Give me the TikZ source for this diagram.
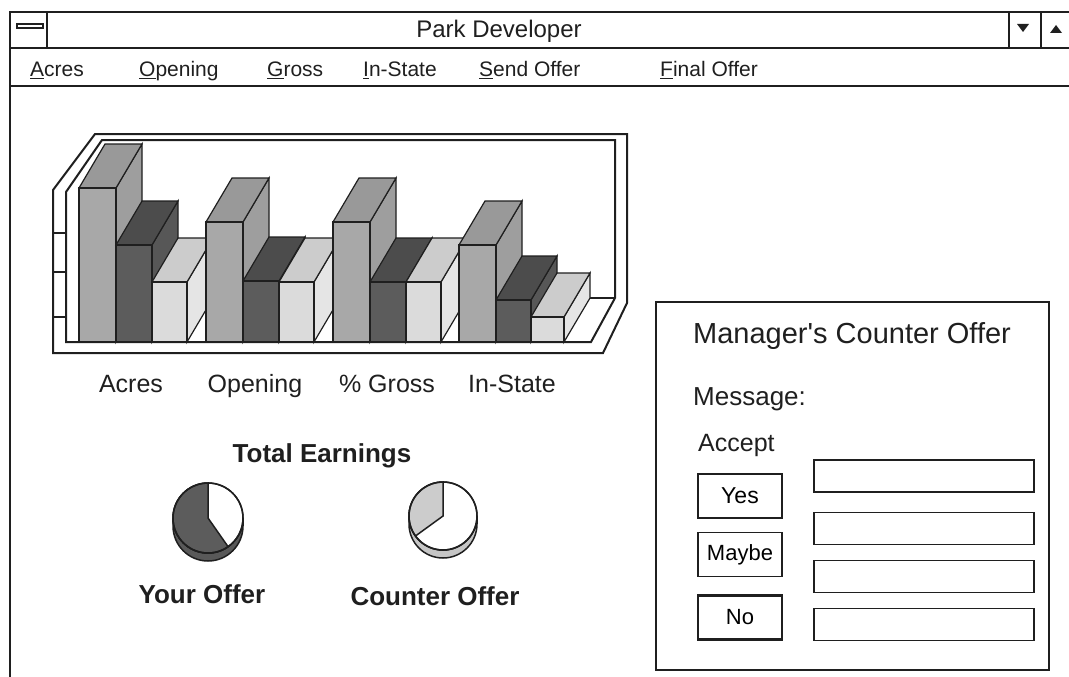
\documentclass[tikz,border=0pt]{standalone}
\usepackage{fontspec}
\setmainfont{Liberation Sans}
\newfontfamily\plainsans{Liberation Sans}
\definecolor{tallF}{gray}{0.66}
\definecolor{tallT}{gray}{0.60}
\definecolor{tallS}{gray}{0.62}
\definecolor{darkF}{gray}{0.36}
\definecolor{darkT}{gray}{0.30}
\definecolor{darkS}{gray}{0.34}
\definecolor{lightF}{gray}{0.86}
\definecolor{lightT}{gray}{0.80}
\definecolor{lightS}{gray}{0.90}
\definecolor{ink}{gray}{0.12}
\newcommand{\pdbar}[4]{%
  \filldraw[barline,fill=#4S] (#1+#2,#3) -- ++(26,-44) -- (#1+#2+26,298) -- (#1+#2,342) -- cycle;
  \filldraw[barline,fill=#4T] (#1,#3) -- ++(26,-44) -- ++(#2,0) -- (#1+#2,#3) -- cycle;
  \filldraw[barline,fill=#4F] (#1,#3) rectangle (#1+#2,342);
}
\newcommand{\mnem}[1]{\underline{#1}}
\tikzset{
  win/.style={line width=2.2pt, draw=ink},
  frameline/.style={line width=2pt, draw=ink},
  barline/.style={line width=1.2pt, draw=ink},
  btn/.style={draw=ink, line width=1.5pt, minimum width=84pt, minimum height=44pt, inner sep=0pt, font=\fontsize{23}{26}\selectfont},
  fld/.style={draw=ink, line width=1.5pt, minimum width=220pt, minimum height=32pt, inner sep=0pt},
  menu/.style={anchor=base west, inner sep=0pt, text=ink, font=\fontsize{21}{24}\selectfont},
  lab/.style={anchor=base, inner sep=0pt, text=ink, font=\fontsize{25}{28}\selectfont},
  boldlab/.style={anchor=base, inner sep=0pt, text=ink, font=\bfseries\fontsize{26}{30}\selectfont},
  dlg/.style={anchor=base west, inner sep=0pt, text=ink},
}
\begin{document}
\begin{tikzpicture}[x=1pt,y=-1pt,line join=miter]
\useasboundingbox (0,0) rectangle (1069,677);
% window frame
\draw[win] (10,677) -- (10,12) -- (1069,12);
\draw[win] (10,48) -- (1069,48);
\draw[win] (10,86) -- (1069,86);
\draw[win] (47,12) -- (47,48);
\draw[line width=1.5pt,draw=ink] (1009,12) -- (1009,48);
\draw[line width=1.5pt,draw=ink] (1041,12) -- (1041,48);
\filldraw[fill=white,draw=ink,line width=1.3pt] (17,24) rectangle (43,28);
\fill[ink] (1017,24) -- (1029,24) -- (1023,32) -- cycle;
\fill[ink] (1050,33) -- (1062,33) -- (1056,25) -- cycle;
\node[text=ink,font=\fontsize{24}{28}\selectfont] (title) at (499,31) {Park Developer};
% menu
\node[menu] (mAcres) at (30,77) {\mnem{A}cres};
\node[menu] (mOpening) at (139,77) {\mnem{O}pening};
\node[menu] (mGross) at (267,77) {\mnem{G}ross};
\node[menu] (mInState) at (363,77) {\mnem{I}n-State};
\node[menu] (mSend) at (479,77) {\mnem{S}end Offer};
\node[menu] (mFinal) at (660,77) {\mnem{F}inal Offer};
% chart frame
\draw[frameline] (53,353) -- (603,353) -- (627,303) -- (627,134) -- (95,134) -- (53,190) -- cycle;
\draw[frameline] (66,342) -- (591,342) -- (615,298) -- (615,140) -- (102,140) -- (66,192) -- cycle;
\draw[frameline] (53,233) -- (66,233);
\draw[frameline] (53,272) -- (66,272);
\draw[frameline] (53,317) -- (66,317);
\draw[barline] (92,298) -- (615,298);
% bars
\pdbar{79}{37}{188}{tall}
\pdbar{116}{36}{245}{dark}
\pdbar{152}{35}{282}{light}
\pdbar{206}{37}{222}{tall}
\pdbar{243}{36}{281}{dark}
\pdbar{279}{35}{282}{light}
\pdbar{333}{37}{222}{tall}
\pdbar{370}{36}{282}{dark}
\pdbar{406}{35}{282}{light}
\pdbar{459}{37}{245}{tall}
\pdbar{496}{35}{300}{dark}
\pdbar{531}{33}{317}{light}
% chart labels
\node[lab] (lAcres) at (131,392) {Acres};
\node[lab] (lOpening) at (255,392) {Opening};
\node[lab] (lGross) at (387,392) {\% Gross};
\node[lab] (lInState) at (512,392) {In-State};
\node[boldlab] (total) at (322,462) {Total Earnings};
% pie 1
\filldraw[fill=gray!70!black,draw=ink,line width=1.5pt] (173,518) -- (173,526) arc[start angle=180,end angle=0,radius=35] -- (243,518) arc[start angle=0,end angle=180,radius=35] -- cycle;
\filldraw[fill=white,draw=ink,line width=1.5pt] (208,518) circle[radius=35];
\filldraw[fill=darkF,draw=ink,line width=1.5pt] (208,518) -- +(55:35) arc[start angle=55,end angle=270,radius=35] -- cycle;
\draw[ink,line width=1.5pt] (208,518) circle[radius=35];
% pie 2
\filldraw[fill=gray!45,draw=ink,line width=1.5pt] (409,516) -- (409,524) arc[start angle=180,end angle=0,radius=34] -- (477,516) arc[start angle=0,end angle=180,radius=34] -- cycle;
\filldraw[fill=white,draw=ink,line width=1.5pt] (443,516) circle[radius=34];
\filldraw[fill=lightT,draw=ink,line width=1.5pt] (443,516) -- +(144:34) arc[start angle=144,end angle=270,radius=34] -- cycle;
\draw[ink,line width=1.5pt] (443,516) circle[radius=34];
\node[boldlab] (yours) at (202,603) {Your Offer};
\node[boldlab] (counter) at (435,605) {Counter Offer};
% dialog
\draw[ink,line width=1.6pt] (656,302) rectangle (1049,670);
\node[dlg,font=\plainsans\fontsize{29}{32}\selectfont] (dtitle) at (693,343) {Manager's Counter Offer};
\node[dlg,font=\fontsize{26}{30}\selectfont] (msg) at (693,405) {Message:};
\node[dlg,font=\fontsize{25}{28}\selectfont] (accept) at (698,451) {Accept};
\node[btn] (yes) at (740,496) {Yes};
\node[btn,font=\fontsize{22}{25}\selectfont] (maybe) at (740,554.5) {Maybe};
\node[btn,line width=2.2pt,font=\fontsize{22}{25}\selectfont] (no) at (740,617.5) {No};
\node[fld] (f1) at (924,476) {};
\node[fld] (f2) at (924,528.5) {};
\node[fld] (f3) at (924,576.5) {};
\node[fld] (f4) at (924,624.5) {};
\end{tikzpicture}
\end{document}
